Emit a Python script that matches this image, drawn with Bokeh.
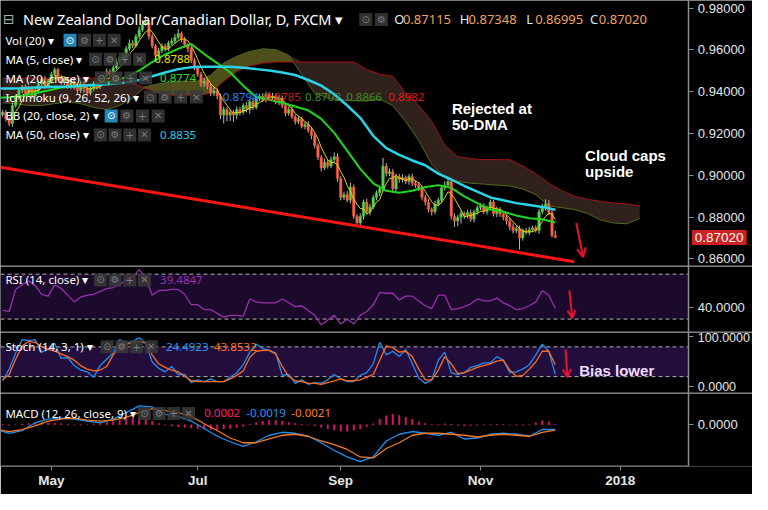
import numpy as np
import pandas as pd
from bokeh.plotting import figure
from bokeh.layouts import column
from bokeh.models import (Range1d, FixedTicker, PrintfTickFormatter, Label, Span,
                          Arrow, OpenHead, BoxAnnotation, LinearAxis)
from bokeh.embed import file_html
from bokeh.resources import INLINE

# ---------------- data (bar index 0 = 1 May 2017, business days) ----------------
first_bar = -15
first_open = 0.9290
close = [
    .9302, .9270, .9248, .9334, .9370, .9406, .9424, .9392, .9415, .9379,
    .9406, .9438, .9460, .9424, .9451, .9483, .9506, .9469, .9442, .9460,
    .9424, .9451, .9424, .9406, .9438, .9415, .9392, .9415, .9438, .9424,
    .9460, .9469, .9497, .9483, .9515, .9542, .9560, .9574, .9605, .9632,
    .9619, .9664, .9696, .9723, .9732, .9664, .9619, .9574, .9596, .9619,
    .9605, .9632, .9642, .9660, .9678, .9651, .9623, .9605, .9551, .9515,
    .9483, .9438, .9451, .9424, .9392, .9406, .9379, .9288, .9315, .9288,
    .9302, .9288, .9315, .9302, .9334, .9315, .9352, .9325, .9370, .9379,
    .9361, .9388, .9370, .9379, .9352, .9370, .9334, .9297, .9315, .9279,
    .9257, .9270, .9234, .9243, .9216, .9189, .9143, .9085, .9035, .9062,
    .9044, .9075, .9089, .8985, .8894, .8908, .8881, .8944, .8804, .8772,
    .8804, .8872, .8826, .8849, .8894, .8917, .8935, .9044, .9008, .9017,
    .8935, .8994, .8980, .8989, .8971, .8994, .8962, .8953, .8935, .8894,
    .8872, .8836, .8826, .8863, .8881, .8940, .8953, .8971, .8804, .8781,
    .8799, .8817, .8808, .8822, .8790, .8826, .8845, .8854, .8826, .8845,
    .8872, .8817, .8836, .8813, .8799, .8781, .8754, .8736, .8745, .8700,
    .8736, .8727, .8740, .8749, .8736, .8826, .8845, .8863, .8822, .8712, .8702,
]
wick_up_pips = [
    12, 10, 8, 14, 10, 12, 8, 10, 12, 8,
    10, 12, 8, 14, 10, 12, 10, 8, 12, 10,
    12, 10, 8, 10, 14, 12, 10, 16, 12, 8,
    10, 12, 14, 10, 12, 16, 10, 12, 14, 18,
    14, 12, 16, 20, 30, 10, 12, 8, 14, 12,
    10, 12, 14, 16, 22, 10, 12, 8, 10, 12,
    10, 12, 14, 10, 12, 14, 10, 12, 14, 10,
    12, 10, 14, 12, 10, 16, 12, 14, 10, 12,
    14, 12, 10, 16, 12, 14, 12, 10, 14, 12,
    12, 14, 10, 12, 16, 14, 12, 10, 12, 18,
    12, 14, 20, 16, 12, 14, 16, 20, 12, 10,
    14, 12, 16, 14, 12, 10, 16, 40, 14, 16,
    12, 14, 12, 16, 10, 12, 14, 12, 16, 14,
    12, 14, 10, 16, 12, 14, 18, 16, 12, 14,
    12, 14, 10, 12, 14, 10, 12, 14, 12, 10,
    12, 10, 14, 12, 10, 12, 14, 16, 12, 14,
    10, 12, 14, 10, 12, 14, 20, 22, 18, 12, 23,
]
wick_dn_pips = [
    10, 12, 14, 16, 10, 8, 12, 10, 8, 12,
    8, 10, 12, 10, 8, 12, 10, 14, 8, 10,
    10, 12, 14, 16, 12, 20, 14, 10, 12, 12,
    12, 10, 8, 12, 10, 8, 12, 10, 8, 10,
    10, 8, 12, 10, 8, 14, 12, 16, 10, 12,
    12, 10, 8, 12, 10, 14, 12, 16, 14, 12,
    12, 14, 16, 12, 14, 12, 16, 20, 40, 30,
    28, 32, 20, 16, 12, 14, 20, 12, 10, 14,
    10, 12, 14, 10, 12, 16, 12, 14, 12, 10,
    14, 12, 10, 14, 12, 16, 14, 12, 16, 10,
    12, 10, 14, 16, 14, 12, 10, 16, 12, 14,
    12, 16, 14, 18, 12, 14, 16, 12, 14, 12,
    14, 12, 16, 14, 12, 16, 14, 12, 10, 14,
    16, 14, 18, 12, 10, 14, 12, 10, 16, 28,
    24, 30, 16, 14, 12, 16, 14, 12, 10, 14,
    12, 14, 16, 12, 14, 16, 18, 14, 12, 55,
    12, 10, 14, 12, 10, 16, 12, 14, 12, 10, 2,
]

tick_bars = [0, 45, 89, 132, 175]
tick_labels = ["May", "Jul", "Sep", "Nov", "2018"]

ma_bars = list(range(-17, 156, 4))
ma20 = [.9370, .9374, .9379, .9393, .9406, .9420, .9424, .9429, .9438, .9451,
        .9469, .9501, .9542, .9578, .9605, .9628, .9580, .9537, .9492, .9429,
        .9374, .9361, .9347, .9329, .9311, .9270, .9203, .9117, .9031, .8962,
        .8926, .8917, .8926, .8944, .8953, .8940, .8899, .8867, .8836, .8826,
        .8808, .8795, .8790, .8774]
ma50 = [.9415, .9415, .9417, .9420, .9422, .9424, .9426, .9431, .9433, .9438,
        .9444, .9456, .9474, .9492, .9508, .9517, .9519, .9519, .9519, .9515,
        .9508, .9501, .9492, .9480, .9456, .9429, .9388, .9334, .9275, .9189,
        .9130, .9098, .9071, .9048, .9008, .8980, .8949, .8922, .8894, .8881,
        .8867, .8858, .8849, .8835]

cloud_bars = list(range(-15, 182, 4))
span_a = [.9347, .9343, .9334, .9334, .9343, .9352, .9343, .9325, .9315, .9334,
          .9370, .9424, .9438, .9447, .9451, .9451, .9479, .9537, .9569, .9592,
          .9605, .9601, .9574, .9483, .9392, .9370, .9361, .9356, .9356, .9365,
          .9334, .9257, .9166, .9053, .8989, .8971, .8962, .8958, .8953, .8949,
          .8935, .8908, .8854, .8845, .8836, .8817, .8786, .8772, .8768, .8795]
span_b = [.9465, .9465, .9465, .9465, .9465, .9465, .9465, .9465, .9465, .9465,
          .9438, .9415, .9392, .9383, .9383, .9383, .9392, .9451, .9497, .9524,
          .9537, .9542, .9542, .9542, .9542, .9542, .9542, .9542, .9506, .9483,
          .9474, .9392, .9334, .9257, .9143, .9089, .9080, .9075, .9075, .9075,
          .9044, .9008, .8962, .8926, .8899, .8885, .8876, .8867, .8863, .8854]

osc_bars = list(range(-15, 156, 2))
rsi = [37.7, 36.8, 56.4, 60.6, 64.0, 59.8, 52.1, 50.4, 60.6, 57.2,
       51.3, 45.3, 49.6, 51.3, 52.1, 54.7, 57.2, 58.1, 60.6, 64.9,
       67.4, 74.0, 66.6, 51.3, 55.5, 55.5, 56.4, 56.4, 52.1, 42.8,
       42.8, 38.5, 38.5, 35.1, 31.7, 33.4, 33.4, 32.6, 47.9, 45.3,
       44.5, 44.5, 44.5, 47.9, 44.5, 41.1, 41.9, 37.7, 33.4, 24.9,
       29.1, 33.4, 25.7, 30.0, 25.7, 33.4, 36.8, 42.8, 53.8, 53.0,
       53.0, 47.0, 50.4, 50.4, 46.2, 41.9, 39.4, 51.3, 51.3, 38.5,
       39.4, 41.1, 43.6, 47.9, 46.2, 46.2, 48.7, 44.5, 41.9, 38.5,
       39.4, 41.9, 45.3, 55.5, 51.3, 39.5]
stoch_k = [11.7, 35.1, 67.6, 94.6, 92.8, 94.6, 69.4, 74.8, 87.4, 56.8,
           58.6, 42.3, 33.3, 29.7, 18.9, 42.3, 55.0, 67.6, 94.6, 87.4,
           91.0, 98.2, 87.4, 49.5, 36.9, 29.7, 40.5, 24.3, 24.3, 8.1,
           13.5, 9.9, 15.3, 9.9, 9.9, 18.9, 27.9, 44.1, 69.4, 85.6,
           76.6, 73.0, 67.6, 22.5, 24.3, 6.3, 13.5, 4.5, 8.1, 6.3,
           13.5, 24.3, 15.3, 9.9, 9.9, 22.5, 27.9, 45.9, 89.2, 64.0,
           71.2, 60.4, 74.8, 45.9, 17.1, 6.3, 13.5, 53.2, 69.4, 27.9,
           24.3, 27.9, 38.7, 42.3, 47.7, 47.7, 60.4, 53.2, 27.9, 29.7,
           35.1, 44.1, 64.0, 85.6, 71.2, 24.5]
stoch_d = [13.5, 24.3, 55.0, 82.0, 91.0, 89.2, 80.2, 74.8, 71.2, 65.8,
           60.4, 53.2, 42.3, 35.1, 31.5, 33.3, 40.5, 64.0, 80.2, 85.6,
           87.4, 91.0, 87.4, 64.0, 45.9, 38.7, 33.3, 29.7, 20.7, 11.7,
           9.9, 9.9, 9.9, 9.9, 9.9, 15.3, 22.5, 31.5, 58.6, 71.2,
           73.0, 73.0, 65.8, 40.5, 20.7, 11.7, 9.9, 6.3, 6.3, 4.5,
           8.1, 11.7, 15.3, 11.7, 11.7, 13.5, 18.9, 24.3, 53.2, 82.0,
           78.4, 69.4, 71.2, 60.4, 35.1, 13.5, 13.5, 33.3, 60.4, 45.9,
           26.1, 27.9, 33.3, 38.7, 42.3, 45.9, 51.3, 53.2, 33.3, 20.7,
           22.5, 35.1, 49.5, 71.2, 71.2, 43.9]
macd_hist = [-0.0001, -0.0002, 0.0, 0.0003, 0.0005, 0.0006, 0.0008, 0.0008, 0.0006, 0.0004,
             0.0002, 0.0, -0.0001, 0.0, 0.0002, 0.0005, 0.0009, 0.0013, 0.0019, 0.0025,
             0.0028, 0.0028, 0.0024, 0.0014, 0.0005, -0.0002, -0.0005, -0.0008, -0.0010, -0.0013,
             -0.0016, -0.0018, -0.0019, -0.0019, -0.0017, -0.0015, -0.0011, -0.0006, 0.0002, 0.0009,
             0.0014, 0.0017, 0.0017, 0.0014, 0.0009, 0.0005, 0.0002, 0.0, -0.0004, -0.0010,
             -0.0016, -0.0021, -0.0025, -0.0026, -0.0022, -0.0016, -0.0008, 0.0004, 0.0022, 0.0036,
             0.0042, 0.0038, 0.0030, 0.0022, 0.0012, 0.0005, 0.0001, -0.0001, 0.0004, 0.0003,
             -0.0002, -0.0004, -0.0003, -0.0002, -0.0001, 0.0001, 0.0002, 0.0001, 0.0, -0.0001,
             -0.0002, 0.0, 0.0008, 0.0016, 0.0012, 0.0002]
macd_line = [-0.0019, -0.0034, -0.0023, 0.0008, 0.0023, 0.0027, 0.0023, 0.0015, 0.0008, 0.0023,
             0.0049, 0.0076, 0.0072, 0.0042, 0.0034, 0.0015, -0.0015, -0.0046, -0.0068, -0.0087,
             -0.0068, -0.0042, -0.0030, -0.0034, -0.0046, -0.0072, -0.0103, -0.0129, -0.0148, -0.0129,
             -0.0065, -0.0038, -0.0027, -0.0034, -0.0042, -0.0030, -0.0057, -0.0053, -0.0038, -0.0034,
             -0.0038, -0.0046, -0.0019, -0.0019]
macd_signal = [-0.0019, -0.0027, -0.0019, -0.0004, 0.0015, 0.0023, 0.0027, 0.0019, 0.0015, 0.0019,
               0.0030, 0.0049, 0.0065, 0.0057, 0.0049, 0.0034, 0.0004, -0.0023, -0.0053, -0.0072,
               -0.0072, -0.0057, -0.0042, -0.0038, -0.0046, -0.0065, -0.0080, -0.0099, -0.0129, -0.0133,
               -0.0095, -0.0072, -0.0042, -0.0034, -0.0034, -0.0038, -0.0042, -0.0049, -0.0042, -0.0038,
               -0.0042, -0.0046, -0.0030, -0.0021]

trend_bars = [-15.66, 160.8]
trend_price = [0.9039, 0.8587]

ohlc_text = [("O", "0.87115"), ("H", "0.87348"), ("L", "0.86995"), ("C", "0.87020")]
last_price = 0.8702
last_price_text = "0.87020"

assert len(close) == len(wick_up_pips) == len(wick_dn_pips)
assert len(ma20) == len(ma50) == len(ma_bars) == len(macd_line) == len(macd_signal)
assert len(span_a) == len(span_b) == len(cloud_bars)
assert len(rsi) == len(stoch_k) == len(stoch_d) == len(macd_hist) == len(osc_bars)

# ---------------- helpers: reference-pixel -> data coords (annotation placement) -------------
def bx(px):
    return (px - 52.0) / 3.32

def my(y):
    return 0.982264 - 0.0004528 * y

def ry(y):
    return 30 + (331 - y) / 1.175

def sy(y):
    return (405.5 - y) / 0.555

def mcy(y):
    return (438 - y) / 2630.0

AX = "#8c8c8c"
UI_FONT = "Noto Sans"
AX_FONT = "Liberation Sans"
XR = Range1d(bx(0), bx(768))
AXIS_X = bx(703)          # price scale sits at the right edge of the chart area


def panel(h, y0, y1, ticks, fmt, bottom=0, xaxis=False, sep_full=True, label_size="13px"):
    p = figure(width=752, height=h, x_range=XR, y_range=Range1d(y0, y1),
               output_backend="svg", toolbar_location=None,
               y_axis_location=None, x_axis_location=("below" if xaxis else None))
    p.min_border_left = 0
    p.min_border_top = 0
    p.min_border_bottom = bottom
    p.min_border_right = 0
    p.background_fill_color = "black"
    p.border_fill_color = "black"
    p.outline_line_color = None
    p.grid.visible = False
    ax = LinearAxis(fixed_location=AXIS_X, ticker=FixedTicker(ticks=ticks),
                    formatter=PrintfTickFormatter(format=fmt))
    ax.axis_line_color = AX
    ax.axis_line_width = 1.5
    ax.major_tick_line_color = AX
    ax.major_tick_out = 5
    ax.major_tick_in = 0
    ax.minor_tick_line_color = None
    ax.major_label_text_color = "#e6e6e6"
    ax.major_label_text_font = AX_FONT
    ax.major_label_text_font_size = label_size
    ax.major_label_standoff = 4
    p.add_layout(ax, "right")
    if sep_full:
        p.add_layout(Span(location=y0, dimension="width", line_color=AX, line_width=2))
    else:
        p.segment(x0=[bx(0)], y0=[y0], x1=[AXIS_X], y1=[y0], line_color=AX, line_width=2)
    return p


def lab(p, px, y, text, color="#ffffff", size="11px", font=UI_FONT, style="normal", align="left", **kw):
    p.add_layout(Label(x=bx(px), y=y, text=text, text_color=color, text_font=font,
                       text_font_size=size, text_font_style=style, text_baseline="middle",
                       text_align=align, **kw))


def icons(p, y, centers, blue_first=False):
    xs = [bx(c) for c in centers]
    fills = ["#2c9fd8" if (i == 0 and blue_first) else "#3a3a3a" for i in range(len(xs))]
    p.rect(x=xs, y=[y] * len(xs), width=13, height=13, width_units="screen",
           height_units="screen", fill_color=fills, fill_alpha=0.85, line_color=None)
    syms = ["⊙", "⚙", "+", "✕"]
    for i, (c, s) in enumerate(zip(centers, syms)):
        col = "#ffffff" if (i == 0 and blue_first) else "#7a7a7a"
        lab(p, c, y, s, color=col, size="10px", font="DejaVu Sans", align="center")


# ---------------- main price panel ----------------
pm = panel(266, my(278), my(-3), [0.86, 0.88, 0.90, 0.92, 0.94, 0.96, 0.98], "%.5f")

cb = np.array(cloud_bars, dtype=float)
A = np.array(span_a)
B = np.array(span_b)
top = np.maximum(A, B)
pm.varea(x=cb, y1=B, y2=top, fill_color="#57551f", fill_alpha=0.9)
pm.varea(x=cb, y1=A, y2=top, fill_color="#34231e", fill_alpha=0.95)
pm.line(cb, A, line_color="#4f6a1c", line_width=1)
pm.line(cb, B, line_color="#a51212", line_width=1)

c = np.array(close)
bars = np.arange(first_bar, first_bar + len(c))
o = np.concatenate([[first_open], c[:-1]])
hi = np.maximum(o, c) + np.array(wick_up_pips) * 1e-4
lo = np.minimum(o, c) - np.array(wick_dn_pips) * 1e-4
up = c >= o
pm.segment(bars, hi, bars, lo, line_color="#b8b8b8", line_width=1)
pm.vbar(x=bars[up], top=c[up], bottom=o[up], width=0.75, fill_color="#5ad45a",
        line_color="#38b838", line_width=0.6)
pm.vbar(x=bars[~up], top=o[~up], bottom=c[~up], width=0.75, fill_color="#f36b52",
        line_color="#e2412d", line_width=0.6)

ma5 = pd.Series(c).rolling(5).mean().to_numpy()
pm.line(bars, ma5, line_color="#e6d400", line_width=1)
pm.line(ma_bars, ma20, line_color="#1fd61f", line_width=2)
pm.line(ma_bars, ma50, line_color="#2bd3e8", line_width=2.5)

pm.line(trend_bars, trend_price, line_color="#ff1414", line_width=3)
pm.add_layout(Arrow(end=OpenHead(line_color="#ec1030", line_width=2, size=9),
                    x_start=bx(588), y_start=my(232), x_end=bx(595), y_end=my(268),
                    line_color="#ec1030", line_width=2))

# legend block
lab(pm, 8.5, my(17), "⊟", color="#b0b0b0", size="14px", font="DejaVu Sans", align="center")
lab(pm, 23, my(17), "New Zealand Dollar/Canadian Dollar, D, FXCM ▾", size="14.5px")
icons(pm, my(17), [373, 389])
ohlc_x = [402, 469, 537, 602]
for (letter, num), x in zip(ohlc_text, ohlc_x):
    lab(pm, x, my(17), letter, color="#d6ecff", size="13px")
    lab(pm, x + 9, my(17), num, color="#f3a45c", size="13px")

rows = [
    (39, "Vol (20) ▾", [71, 86, 101, 116], True, []),
    (59, "MA (5, close) ▾", [97, 112, 127, 142], False, [(157, "0.8788", "#e8e000")]),
    (79, "MA (20, close) ▾", [103, 118, 133, 148], False, [(163, "0.8774", "#22e022")]),
    (99, "Ichimoku (9, 26, 52, 26) ▾", [153, 168, 184, 200], False,
     [(227, "0.8794", "#2a80ff"), (270, "0.8785", "#c81a1a"), (311, "0.8702", "#3f8f1f"),
      (353, "0.8866", "#3f8f1f"), (396, "0.8982", "#e81515")]),
    (119, "BB (20, close, 2) ▾", [113, 129, 145, 161], True, []),
    (139, "MA (50, close) ▾", [102, 117, 132, 147], False, [(163, "0.8835", "#22d3e8")]),
]
for y, text, cen, blue, vals in rows:
    lab(pm, 5, my(y), text, size="11.5px")
    icons(pm, my(y), cen, blue)
    for x, t, col in vals:
        lab(pm, x, my(y), t, color=col, size="11.5px")

lab(pm, 461, my(111), "Rejected at", size="15px", font=AX_FONT, style="bold")
lab(pm, 461, my(128), "50-DMA", size="15px", font=AX_FONT, style="bold")
lab(pm, 597, my(161), "Cloud caps", size="15px", font=AX_FONT, style="bold")
lab(pm, 597, my(178), "upside", size="15px", font=AX_FONT, style="bold")
# current-price tag on the price scale
pm.add_layout(Label(x=bx(706), y=last_price, text=last_price_text,
                    text_color="#ffffff", text_font=AX_FONT, text_font_size="13.5px",
                    text_baseline="middle", background_fill_color="#cf1f1f",
                    background_fill_alpha=1.0, padding=3))

# ---------------- RSI ----------------
pr = panel(66, ry(345), ry(276), [40], "%.4f")
pr.add_layout(BoxAnnotation(bottom=30, top=70, right=AXIS_X, fill_color="#1b0a2c", fill_alpha=1,
                            line_color=None, level="underlay"))
for lv in (70, 30):
    pr.segment(x0=[bx(0)], y0=[lv], x1=[AXIS_X], y1=[lv], line_color="#b0b0b0",
               line_dash="4 3", line_width=1)
pr.line(osc_bars, rsi, line_color="#9a2fae", line_width=1.3)
pr.add_layout(Arrow(end=OpenHead(line_color="#ec1030", line_width=2, size=8),
                    x_start=bx(581), y_start=ry(301), x_end=bx(584), y_end=ry(330),
                    line_color="#ec1030", line_width=2))
lab(pr, 5, ry(290), "RSI (14, close) ▾", size="11.5px")
icons(pr, ry(290), [102, 117, 132, 147])
lab(pr, 163, ry(290), "39.4847", color="#9b30b5", size="11.5px")

# ---------------- Stochastic ----------------
ps = panel(61, -14.0, 109.0, [0, 100], "%.4f", label_size="12.5px")
ps.add_layout(BoxAnnotation(bottom=20, top=80, right=AXIS_X, fill_color="#230d3c", fill_alpha=1,
                            line_color=None, level="underlay"))
for lv in (80, 20):
    ps.segment(x0=[bx(0)], y0=[lv], x1=[AXIS_X], y1=[lv], line_color="#b0b0b0",
               line_dash="4 3", line_width=1)
ps.line(osc_bars, stoch_k, line_color="#1e8ff0", line_width=1.3)
ps.line(osc_bars, stoch_d, line_color="#ff6b1a", line_width=1.3)
ps.add_layout(Arrow(end=OpenHead(line_color="#ec1030", line_width=2, size=8),
                    x_start=bx(577), y_start=sy(364), x_end=bx(579), y_end=sy(395),
                    line_color="#ec1030", line_width=2))
lab(ps, 5, sy(361), "Stoch (14, 3, 1) ▾", size="11.5px")
icons(ps, sy(361), [109, 124, 139, 154])
lab(ps, 169, sy(361), "24.4923", color="#2196f3", size="11.5px")
lab(ps, 218, sy(361), "43.8532", color="#ff6d1f", size="11.5px")
lab(ps, 591, sy(388), "Bias lower", color="#ecdcff", size="15px", font=AX_FONT, style="bold")

# ---------------- MACD ----------------
pd_ = panel(101, mcy(482), mcy(405), [0], "%.4f", bottom=28, xaxis=True, sep_full=False)
pd_.vbar(x=osc_bars, top=macd_hist, bottom=0, width=0.4, fill_color="#e8187a",
         line_color="#e8187a", line_width=0.5)
pd_.line(ma_bars, macd_line, line_color="#1e8ff0", line_width=1.3)
pd_.line(ma_bars, macd_signal, line_color="#f47a20", line_width=1.3)
lab(pd_, 5, mcy(426), "MACD (12, 26, close, 9) ▾", size="11.5px")
icons(pd_, mcy(426), [147, 162, 177, 192])
lab(pd_, 208, mcy(426), "0.0002", color="#ff1a6e", size="11.5px")
lab(pd_, 251, mcy(426), "-0.0019", color="#2196f3", size="11.5px")
lab(pd_, 297, mcy(426), "-0.0021", color="#ff7a2a", size="11.5px")

xa = pd_.xaxis[0]
xa.ticker = FixedTicker(ticks=tick_bars)
xa.major_label_overrides = {t: l for t, l in zip(tick_bars, tick_labels)}
xa.axis_line_color = None
xa.major_tick_line_color = AX
xa.major_tick_out = 4
xa.major_tick_in = 0
xa.minor_tick_line_color = None
xa.major_label_text_color = "#e6e6e6"
xa.major_label_text_font = AX_FONT
xa.major_label_text_font_size = "13.5px"
xa.major_label_text_font_style = "bold"
xa.major_label_standoff = 2

layout = column(pm, pr, ps, pd_, spacing=0)
open("out.html", "w").write(file_html(layout, INLINE))
